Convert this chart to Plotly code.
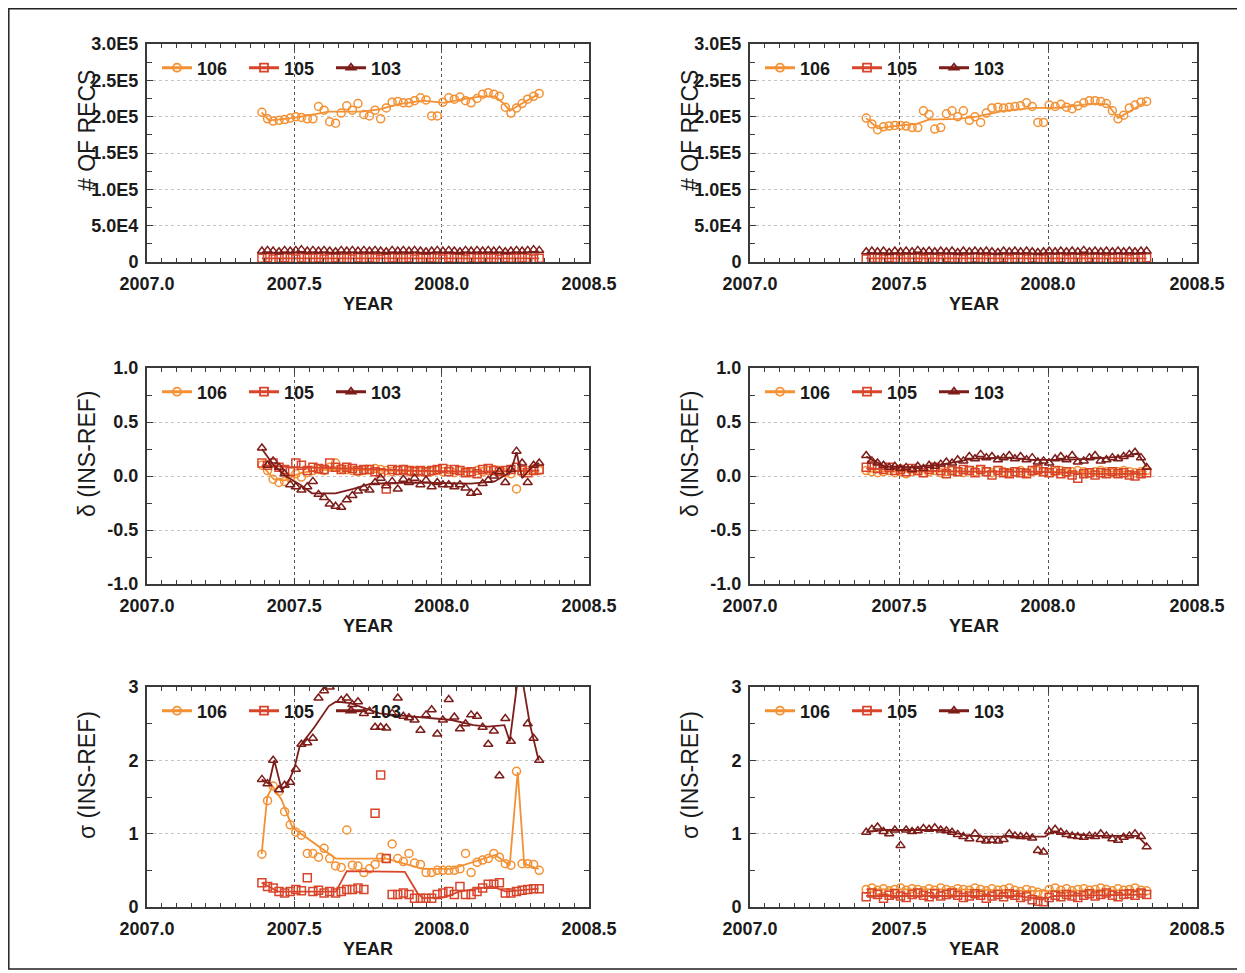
import plotly.graph_objects as go

# ---------------------------------------------------------------------------
# Data
# ---------------------------------------------------------------------------
WEEK = [2007.390, 2007.409, 2007.428, 2007.448, 2007.467, 2007.486, 2007.505, 2007.524, 2007.544, 2007.563,
        2007.582, 2007.601, 2007.620, 2007.640, 2007.659, 2007.678, 2007.697, 2007.716, 2007.736, 2007.755,
        2007.774, 2007.793, 2007.812, 2007.832, 2007.851, 2007.870, 2007.889, 2007.908, 2007.928, 2007.947,
        2007.966, 2007.985, 2008.004, 2008.024, 2008.043, 2008.062, 2008.081, 2008.100, 2008.120, 2008.139,
        2008.158, 2008.177, 2008.196, 2008.216, 2008.235, 2008.254, 2008.273, 2008.292, 2008.312, 2008.331]

SERIES = ["106", "105", "103"]

# number of records, in thousands -- left column
RECS_L_106 = [206, 197, 194, 195, 196, 198, 200, 199, 197, 197, 214, 209, 193, 191, 205, 215, 209, 218, 203, 201,
              209, 197, 212, 220, 221, 219, 219, 222, 226, 223, 201, 201, 220, 226, 224, 227, 222, 219, 225, 231,
              233, 231, 228, 213, 205, 212, 218, 224, 228, 232]
RECS_L_105 = [5, 6, 4, 5, 6, 5, 4, 6, 5, 5, 6, 4, 5, 6, 5, 5, 4, 6, 5, 6, 5, 4, 5, 6, 5,
              5, 6, 4, 5, 5, 6, 5, 4, 6, 5, 5, 4, 6, 5, 6, 5, 5, 4, 6, 5, 5, 6, 5, 4, 5]
RECS_L_103 = [15, 16, 15, 14, 16, 15, 16, 17, 15, 16, 15, 16, 15, 14, 16, 15, 16, 15, 16, 15, 16, 15, 14, 16, 15,
              16, 15, 16, 15, 14, 15, 16, 15, 16, 15, 14, 16, 15, 16, 15, 16, 15, 16, 14, 15, 16, 15, 16, 17, 16]
RECS_L_106_FX = [2007.389, 2007.414, 2007.494, 2007.568, 2007.617, 2007.727, 2007.789, 2007.850, 2007.936,
                 2008.010, 2008.059, 2008.133, 2008.182, 2008.213, 2008.231, 2008.268, 2008.329]
RECS_L_106_FY = [206, 195, 198, 204, 207, 207, 210, 217, 222, 219, 223, 228, 228, 217, 208, 217, 231]
RECS_L_105_FX = [2007.390, 2007.800, 2008.331]
RECS_L_105_FY = [5, 5, 5]
RECS_L_103_FX = [2007.390, 2007.800, 2008.331]
RECS_L_103_FY = [13, 13, 13]

# number of records, in thousands -- right column
RECS_R_106 = [198, 190, 182, 186, 187, 188, 188, 187, 185, 185, 208, 203, 183, 185, 204, 208, 200, 208, 195, 200,
              192, 205, 212, 213, 212, 213, 214, 215, 219, 214, 192, 192, 216, 214, 217, 213, 211, 215, 219, 222,
              222, 221, 218, 208, 197, 202, 212, 216, 220, 221]
RECS_R_105 = [4, 5, 5, 4, 6, 5, 4, 5, 5, 6, 4, 5, 5, 4, 6, 5, 5, 4, 5, 6, 5, 4, 5, 5, 6,
              4, 5, 5, 4, 6, 5, 4, 5, 5, 6, 4, 5, 5, 4, 6, 5, 5, 4, 5, 6, 5, 4, 5, 5, 6]
RECS_R_103 = [14, 15, 14, 15, 13, 15, 14, 15, 14, 16, 14, 15, 14, 15, 14, 15, 13, 15, 14, 15, 14, 15, 14, 13, 15,
              14, 15, 14, 15, 14, 13, 14, 15, 14, 15, 14, 15, 14, 16, 14, 15, 14, 15, 14, 15, 14, 15, 14, 15, 15]
RECS_R_106_FX = [2007.390, 2007.428, 2007.505, 2007.560, 2007.600, 2007.700, 2007.760, 2007.850, 2007.950,
                 2008.030, 2008.150, 2008.200, 2008.235, 2008.331]
RECS_R_106_FY = [198, 184, 188, 190, 196, 197, 200, 208, 212, 212, 218, 217, 198, 221]
RECS_R_105_FX = [2007.390, 2007.800, 2008.331]
RECS_R_105_FY = [5, 5, 5]
RECS_R_103_FX = [2007.390, 2007.800, 2008.331]
RECS_R_103_FY = [12, 12, 12]

# delta (INS-REF) -- left column
DEL_L_106 = [0.10, 0.05, -0.03, -0.06, -0.05, -0.02, 0.02, -0.01, 0.03, 0.05, 0.06, 0.05, 0.08, 0.12, 0.07,
             0.06, 0.05, 0.04, 0.05, 0.06, 0.07, 0.06, 0.05, 0.04, 0.05, 0.06, 0.04, 0.05, 0.04, 0.03,
             0.04, 0.05, 0.04, 0.06, 0.03, 0.05, 0.04, 0.03, 0.05, 0.04, 0.05, 0.06, 0.05, 0.03, 0.02,
             -0.12, 0.03, 0.05, 0.06, 0.05]
DEL_L_105 = [0.12, 0.10, 0.12, 0.08, 0.06, 0.04, 0.12, 0.10, 0.05, 0.08, 0.07, 0.06, 0.12, 0.08, 0.06,
             0.08, 0.07, 0.05, 0.06, 0.06, 0.04, 0.03, -0.12, 0.06, 0.05, 0.06, 0.05, 0.04, 0.05, 0.04,
             0.05, 0.06, 0.07, 0.04, 0.06, 0.05, 0.03, 0.04, 0.02, 0.06, 0.07, 0.05, 0.04, 0.05, 0.06,
             0.08, 0.05, 0.03, 0.05, 0.06]
DEL_L_103 = [0.26, 0.10, 0.14, 0.08, 0.02, -0.08, -0.10, -0.13, -0.10, -0.05, -0.17, -0.20, -0.26, -0.28, -0.29,
             -0.22, -0.18, -0.14, -0.11, -0.13, -0.06, -0.02, -0.09, -0.05, -0.12, -0.03, -0.06, -0.02, -0.08,
             -0.04, -0.10, -0.06, -0.08, -0.08, -0.10, -0.08, -0.11, -0.16, -0.15, -0.07, -0.04, 0.00, 0.04,
             -0.06, 0.06, 0.23, 0.12, -0.06, 0.10, 0.12]
DEL_L_106_FX = [2007.390, 2007.430, 2007.470, 2007.520, 2007.600, 2007.800, 2008.000, 2008.200, 2008.331]
DEL_L_106_FY = [0.10, -0.03, -0.04, 0.03, 0.06, 0.05, 0.04, 0.04, 0.05]
DEL_L_105_FX = [2007.390, 2007.500, 2007.700, 2007.900, 2008.100, 2008.331]
DEL_L_105_FY = [0.10, 0.08, 0.07, 0.05, 0.04, 0.05]
DEL_L_103_FX = [2007.390, 2007.430, 2007.470, 2007.520, 2007.560, 2007.640, 2007.700, 2007.760, 2007.900,
                2008.100, 2008.180, 2008.235, 2008.254, 2008.273, 2008.312, 2008.331]
DEL_L_103_FY = [0.25, 0.10, 0.00, -0.08, -0.16, -0.16, -0.12, -0.07, -0.06, -0.07, -0.05, 0.04, 0.22, -0.02,
                0.10, 0.12]

# delta (INS-REF) -- right column
DEL_R_106 = [0.05, 0.04, 0.03, 0.04, 0.05, 0.03, 0.04, 0.02, 0.04, 0.05, 0.03, 0.04, 0.05, 0.03, 0.04,
             0.05, 0.04, 0.03, 0.05, 0.04, 0.06, 0.04, 0.03, 0.05, 0.04, 0.03, 0.04, 0.05, 0.03, 0.04,
             0.05, 0.04, 0.03, 0.04, 0.05, 0.03, 0.04, 0.05, 0.04, 0.03, 0.04, 0.05, 0.04, 0.03, 0.04,
             0.05, 0.04, 0.03, 0.04, 0.05]
DEL_R_105 = [0.08, 0.10, 0.07, 0.06, 0.08, 0.05, 0.06, 0.04, 0.07, 0.05, 0.03, 0.06, 0.08, 0.05, 0.02,
             0.05, 0.04, 0.06, 0.05, 0.03, 0.06, 0.04, 0.01, 0.05, 0.03, 0.02, 0.04, 0.03, 0.02, 0.05,
             0.06, 0.04, 0.03, 0.05, 0.02, 0.04, 0.01, -0.02, 0.02, 0.03, 0.01, 0.03, 0.02, 0.04, 0.02,
             0.03, 0.01, 0.00, 0.02, 0.03]
DEL_R_103 = [0.19, 0.14, 0.12, 0.10, 0.08, 0.09, 0.07, 0.08, 0.06, 0.09, 0.07, 0.10, 0.09, 0.11, 0.13,
             0.12, 0.15, 0.14, 0.18, 0.16, 0.20, 0.17, 0.18, 0.15, 0.17, 0.19, 0.16, 0.18, 0.15, 0.17,
             0.13, 0.14, 0.12, 0.16, 0.18, 0.15, 0.19, 0.13, 0.14, 0.17, 0.19, 0.14, 0.15, 0.17, 0.16,
             0.18, 0.20, 0.22, 0.17, 0.08]
DEL_R_106_FX = [2007.390, 2007.800, 2008.331]
DEL_R_106_FY = [0.04, 0.04, 0.04]
DEL_R_105_FX = [2007.390, 2007.550, 2007.750, 2007.950, 2008.150, 2008.331]
DEL_R_105_FY = [0.07, 0.05, 0.04, 0.04, 0.02, 0.02]
DEL_R_103_FX = [2007.390, 2007.450, 2007.550, 2007.650, 2007.750, 2007.850, 2007.950, 2008.050, 2008.150,
                2008.250, 2008.300, 2008.331]
DEL_R_103_FY = [0.18, 0.09, 0.08, 0.11, 0.16, 0.17, 0.15, 0.15, 0.16, 0.18, 0.21, 0.09]

# sigma (INS-REF) -- left column
SIG_L_106 = [0.72, 1.45, 1.65, 1.58, 1.30, 1.12, 1.02, 0.98, 0.73, 0.73, 0.68, 0.80, 0.66, 0.56, 0.54,
             1.05, 0.57, 0.56, 0.47, 0.52, 0.58, 0.68, 0.66, 0.86, 0.66, 0.62, 0.73, 0.60, 0.58, 0.47,
             0.47, 0.50, 0.50, 0.50, 0.50, 0.52, 0.73, 0.47, 0.61, 0.64, 0.66, 0.73, 0.68, 0.59, 0.57,
             1.85, 0.59, 0.59, 0.58, 0.50]
SIG_L_105 = [0.33, 0.28, 0.26, 0.21, 0.19, 0.21, 0.24, 0.22, 0.40, 0.21, 0.23, 0.19, 0.21, 0.19, 0.21,
             0.24, 0.24, 0.26, 0.24, None, 1.28, 1.80, 0.66, 0.17, 0.17, 0.19, 0.17, 0.12, 0.12, 0.12,
             0.12, 0.17, 0.19, 0.21, 0.17, 0.28, 0.17, 0.17, 0.21, 0.26, 0.31, 0.31, 0.33, 0.19, 0.19,
             0.21, 0.23, 0.24, 0.25, 0.25]
SIG_L_103 = [1.74, 1.68, 2.00, 1.60, 1.66, 1.70, 1.88, 2.22, 2.24, 2.30, 2.85, 2.95, 3.00, 3.05, 2.82,
             2.85, 2.76, 2.80, 2.64, 2.67, 2.45, 2.45, 2.44, 2.64, 2.85, 2.60, 2.58, 2.55, 2.41, 2.62,
             2.69, 2.36, 2.55, 2.83, 2.59, 2.43, 2.50, 2.62, 2.60, 2.45, 2.22, 2.40, 1.79, 2.57, 2.26,
             3.04, 3.10, 2.50, 2.30, 2.00]
SIG_L_106_FX = [2007.389, 2007.408, 2007.426, 2007.457, 2007.494, 2007.641, 2007.813, 2007.936, 2008.034,
                2008.182, 2008.231, 2008.258, 2008.280, 2008.329]
SIG_L_106_FY = [0.72, 1.50, 1.65, 1.46, 1.08, 0.66, 0.66, 0.52, 0.52, 0.71, 0.57, 1.84, 0.59, 0.52]
SIG_L_105_FX = [2007.389, 2007.445, 2007.641, 2007.678, 2007.875, 2007.918, 2007.936, 2008.010, 2008.059,
                2008.170, 2008.219, 2008.329]
SIG_L_105_FY = [0.33, 0.21, 0.21, 0.49, 0.48, 0.19, 0.12, 0.13, 0.21, 0.28, 0.21, 0.25]
SIG_L_103_FX = [2007.389, 2007.414, 2007.432, 2007.457, 2007.475, 2007.500, 2007.518, 2007.568, 2007.617,
                2007.641, 2007.690, 2007.740, 2007.789, 2007.838, 2007.936, 2008.034, 2008.108, 2008.157,
                2008.213, 2008.231, 2008.258, 2008.274, 2008.299, 2008.329]
SIG_L_103_FY = [1.74, 1.68, 2.00, 1.60, 1.66, 1.89, 2.19, 2.45, 2.74, 2.80, 2.78, 2.71, 2.64, 2.62, 2.59,
                2.55, 2.48, 2.46, 2.48, 2.26, 3.10, 3.10, 2.50, 2.00]

# sigma (INS-REF) -- right column
SIG_R_106 = [0.24, 0.26, 0.23, 0.25, 0.22, 0.24, 0.26, 0.23, 0.25, 0.24, 0.22, 0.25, 0.23, 0.26, 0.24,
             0.22, 0.25, 0.24, 0.23, 0.26, 0.24, 0.22, 0.25, 0.23, 0.24, 0.26, 0.23, 0.21, 0.24, 0.22,
             0.20, 0.18, 0.24, 0.26, 0.23, 0.25, 0.22, 0.24, 0.25, 0.23, 0.24, 0.26, 0.24, 0.22, 0.25,
             0.23, 0.24, 0.26, 0.23, 0.22]
SIG_R_105 = [0.14, 0.19, 0.17, 0.12, 0.16, 0.18, 0.15, 0.13, 0.17, 0.19, 0.16, 0.14, 0.18, 0.15, 0.17,
             0.19, 0.16, 0.13, 0.15, 0.18, 0.16, 0.12, 0.15, 0.17, 0.14, 0.18, 0.16, 0.13, 0.15, 0.10,
             0.08, 0.07, 0.13, 0.16, 0.14, 0.17, 0.15, 0.13, 0.16, 0.18, 0.15, 0.17, 0.19, 0.16, 0.14,
             0.17, 0.18, 0.16, 0.19, 0.17]
SIG_R_103 = [1.02, 1.06, 1.09, 1.03, 1.00, 1.05, 0.84, 1.05, 1.03, 1.04, 1.07, 1.06, 1.08, 1.05, 1.04,
             1.02, 0.99, 0.96, 0.93, 1.00, 0.92, 0.90, 0.91, 0.90, 0.92, 1.00, 0.97, 0.96, 0.96, 0.94,
             0.77, 0.75, 1.03, 1.06, 1.02, 0.99, 0.97, 0.96, 0.95, 0.97, 0.96, 1.00, 0.97, 0.93, 0.91,
             0.95, 0.97, 1.00, 0.96, 0.82]
SIG_R_106_FX = [2007.390, 2007.700, 2007.950, 2008.000, 2008.331]
SIG_R_106_FY = [0.24, 0.24, 0.22, 0.22, 0.23]
SIG_R_105_FX = [2007.390, 2007.900, 2007.980, 2008.020, 2008.331]
SIG_R_105_FY = [0.15, 0.15, 0.10, 0.15, 0.17]
SIG_R_103_FX = [2007.390, 2007.450, 2007.650, 2007.720, 2007.780, 2007.990, 2008.010, 2008.150, 2008.300,
                2008.331]
SIG_R_103_FY = [1.02, 1.05, 1.05, 0.98, 0.96, 0.96, 1.02, 0.97, 0.97, 0.84]

# ticks
X_TICKS = [2007.0, 2007.5, 2008.0, 2008.5]
X_TICK_TEXT = ["2007.0", "2007.5", "2008.0", "2008.5"]
RECS_TICKS = [0, 50, 100, 150, 200, 250, 300]
RECS_TICK_TEXT = ["0", "5.0E4", "1.0E5", "1.5E5", "2.0E5", "2.5E5", "3.0E5"]
DEL_TICKS = [-1.0, -0.5, 0.0, 0.5, 1.0]
DEL_TICK_TEXT = ["-1.0", "-0.5", "0.0", "0.5", "1.0"]
SIG_TICKS = [0, 1, 2, 3]
SIG_TICK_TEXT = ["0", "1", "2", "3"]

# ---------------------------------------------------------------------------
# Style / layout
# ---------------------------------------------------------------------------
OFF = 8                     # page body margin: the figure starts 8 px into the window
W, H = 1245 - OFF, 973 - OFF
FONT = "Liberation Sans, Arial, sans-serif"
STYLE = {
    "106": ("#f39134", "circle-open"),
    "105": ("#d8452b", "square-open"),
    "103": ("#7c1d1a", "triangle-up-open"),
}
# panel boxes in window pixels
COL_PX = [(147, 589), (750, 1197)]
ROW_PX = [(44, 262), (368, 584), (687, 907)]


def fx(p):
    return (p - OFF) / W


def fy(p):
    return 1 - (p - OFF) / H


ROWS = [
    dict(title="# OF RECS", rng=[0, 300], ticks=RECS_TICKS, text=RECS_TICK_TEXT, minor=25,
         data=[(RECS_L_106, RECS_L_106_FX, RECS_L_106_FY, RECS_L_105, RECS_L_105_FX, RECS_L_105_FY,
                RECS_L_103, RECS_L_103_FX, RECS_L_103_FY),
               (RECS_R_106, RECS_R_106_FX, RECS_R_106_FY, RECS_R_105, RECS_R_105_FX, RECS_R_105_FY,
                RECS_R_103, RECS_R_103_FX, RECS_R_103_FY)]),
    dict(title="\u03b4 (INS-REF)", rng=[-1, 1], ticks=DEL_TICKS, text=DEL_TICK_TEXT, minor=0.25,
         data=[(DEL_L_106, DEL_L_106_FX, DEL_L_106_FY, DEL_L_105, DEL_L_105_FX, DEL_L_105_FY,
                DEL_L_103, DEL_L_103_FX, DEL_L_103_FY),
               (DEL_R_106, DEL_R_106_FX, DEL_R_106_FY, DEL_R_105, DEL_R_105_FX, DEL_R_105_FY,
                DEL_R_103, DEL_R_103_FX, DEL_R_103_FY)]),
    dict(title="\u03c3 (INS-REF)", rng=[0, 3], ticks=SIG_TICKS, text=SIG_TICK_TEXT, minor=0.5,
         data=[(SIG_L_106, SIG_L_106_FX, SIG_L_106_FY, SIG_L_105, SIG_L_105_FX, SIG_L_105_FY,
                SIG_L_103, SIG_L_103_FX, SIG_L_103_FY),
               (SIG_R_106, SIG_R_106_FX, SIG_R_106_FY, SIG_R_105, SIG_R_105_FX, SIG_R_105_FY,
                SIG_R_103, SIG_R_103_FX, SIG_R_103_FY)]),
]

fig = go.Figure()
annotations = []
layout = {}

for r, row in enumerate(ROWS):
    for c in range(2):
        k = r * 2 + c + 1
        sfx = "" if k == 1 else str(k)
        xa, ya = "x" + sfx, "y" + sfx
        leg = "legend" + sfx
        x0, x1 = COL_PX[c]
        y0, y1 = ROW_PX[r]
        vals = row["data"][c]

        for j, code in enumerate(SERIES):
            color, symbol = STYLE[code]
            pts, lx, ly = vals[3 * j], vals[3 * j + 1], vals[3 * j + 2]
            fig.add_trace(go.Scatter(
                x=WEEK, y=pts, mode="markers", xaxis=xa, yaxis=ya, showlegend=False,
                marker=dict(symbol=symbol, size=8, color=color, line=dict(width=1.5)),
                hoverinfo="skip"))
            fig.add_trace(go.Scatter(
                x=lx, y=ly, mode="lines", xaxis=xa, yaxis=ya, showlegend=False,
                line=dict(color=color, width=1.8), hoverinfo="skip"))
            # legend entry
            fig.add_trace(go.Scatter(
                x=[None], y=[None], mode="lines+markers", name=code, xaxis=xa, yaxis=ya,
                legend=leg, line=dict(color=color, width=3),
                marker=dict(symbol=symbol, size=8, color=color, line=dict(width=1.8))))

        axis_common = dict(
            showline=True, linecolor="#3a3a3a", linewidth=2, mirror="allticks",
            ticks="inside", ticklen=6, tickwidth=1, tickcolor="#3a3a3a",
            tickfont=dict(family=FONT, size=18, color="#1a1a1a", weight="bold"),
            zeroline=False, automargin=False,
        )
        layout["xaxis" + sfx] = dict(
            axis_common, domain=[fx(x0), fx(x1)], anchor=ya, range=[2007.0, 2008.5],
            tickmode="array", tickvals=X_TICKS, ticktext=X_TICK_TEXT, ticklabelstandoff=4,
            showgrid=True, gridcolor="#555555", griddash="dot", gridwidth=1,
            minor=dict(tickmode="linear", tick0=2007.0, dtick=0.05, ticks="inside", ticklen=4,
                       tickcolor="#3a3a3a", showgrid=False))
        layout["yaxis" + sfx] = dict(
            axis_common, domain=[fy(y1), fy(y0)], anchor=xa, range=row["rng"],
            tickmode="array", tickvals=row["ticks"], ticktext=row["text"], ticklabelstandoff=3,
            showgrid=True, gridcolor="#c4c4c4", griddash="dot", gridwidth=1,
            minor=dict(tickmode="linear", tick0=0, dtick=row["minor"], ticks="inside", ticklen=5,
                       tickcolor="#3a3a3a", showgrid=False))
        layout[leg] = dict(
            x=fx(x0 + 10), y=fy(y0 + 24), xanchor="left", yanchor="middle",
            orientation="h", bgcolor="rgba(0,0,0,0)", borderwidth=0,
            font=dict(family=FONT, size=18, color="#1a1a1a", weight="bold"),
            entrywidth=42, entrywidthmode="pixels", itemwidth=30)

        # axis titles
        annotations.append(dict(
            text="YEAR", x=fx((x0 + x1) / 2), y=fy(y1 + 42), xref="paper", yref="paper",
            showarrow=False, xanchor="center", yanchor="middle",
            font=dict(family=FONT, size=18, color="#1a1a1a", weight="bold")))
        annotations.append(dict(
            text=row["title"], x=fx(x0 - 60), y=fy((y0 + y1) / 2 - 22), xref="paper",
            yref="paper", showarrow=False, textangle=-90, xanchor="center", yanchor="middle",
            font=dict(family=FONT, size=23, color="#1a1a1a")))

fig.update_layout(
    width=W, height=H,
    margin=dict(l=0, r=0, t=0, b=0, autoexpand=False),
    paper_bgcolor="white", plot_bgcolor="white",
    annotations=annotations,
    shapes=[dict(type="rect", xref="paper", yref="paper",
                 x0=fx(8.8), x1=fx(1239), y0=fy(969), y1=fy(8.8),
                 line=dict(color="#222222", width=1.5))],
    **layout,
)

fig.write_html("out.html")
